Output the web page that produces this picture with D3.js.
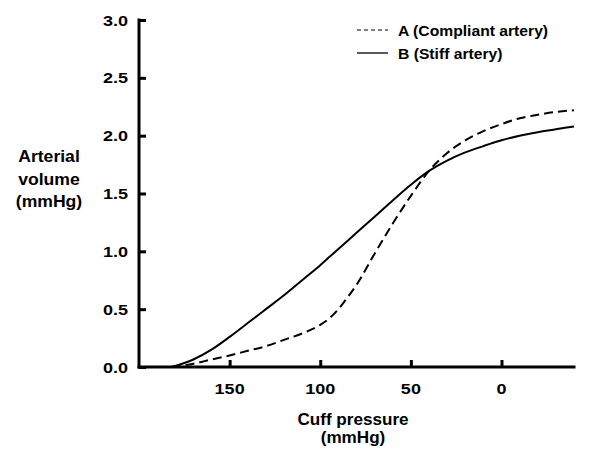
<!DOCTYPE html>
<html>
<head>
<meta charset="utf-8">
<script src="https://cdn.jsdelivr.net/npm/d3@7"></script>
<style>
  body { margin: 0; background: #fff; }
  svg { display: block; }
  text { font-family: "Liberation Sans", Arial, sans-serif; font-weight: bold; fill: #000; }
</style>
</head>
<body>
<svg id="chart" width="600" height="461"></svg>
<script>
// ---- data ----
const pressure = [182, 170, 160, 150, 140, 130, 120, 110, 100, 95, 90, 85, 80, 70, 60, 50, 40, 30, 20, 10, 0, -10, -20, -30, -40];
const compliantA = [0, 0.028, 0.065, 0.10, 0.14, 0.18, 0.235, 0.29, 0.365, 0.42, 0.50, 0.60, 0.71, 0.98, 1.24, 1.48, 1.695, 1.85, 1.96, 2.04, 2.10, 2.15, 2.18, 2.205, 2.22];
const stiffB = [0, 0.065, 0.15, 0.26, 0.38, 0.50, 0.62, 0.75, 0.88, 0.95, 1.02, 1.09, 1.16, 1.30, 1.44, 1.575, 1.695, 1.785, 1.855, 1.91, 1.96, 2.00, 2.03, 2.055, 2.08];
const xTicks = [150, 100, 50, 0];
const yTicks = [0, 0.5, 1.0, 1.5, 2.0, 2.5, 3.0];
const seriesNames = ["A (Compliant artery)", "B (Stiff artery)"];
const xTitle = ["Cuff pressure", "(mmHg)"];
const yTitle = ["Arterial", "volume", "(mmHg)"];

// ---- layout ----
const svg = d3.select("#chart");
const x = d3.scaleLinear().domain([200, -40]).range([139, 574]);
const y = d3.scaleLinear().domain([0, 3]).range([367, 20]);

function label(g, px, py, str, size, anchor, sx) {
  return g.append("text")
    .attr("transform", `translate(${px},${py}) scale(${sx},1)`)
    .attr("text-anchor", anchor)
    .attr("font-size", size)
    .text(str);
}

// axes (lines and ticks through d3 axes, labels stretched to match reference)
const xAxis = svg.append("g").attr("transform", `translate(0,${y(0)})`)
  .call(d3.axisBottom(x).tickValues(xTicks).tickSize(-7).tickFormat(""));
const yAxis = svg.append("g").attr("transform", `translate(${x(200)},0)`)
  .call(d3.axisLeft(y).tickValues(yTicks).tickSize(-7).tickFormat(""));

xAxis.select(".domain").attr("d", `M${x(200)},0H${x(-40)}`);
yAxis.select(".domain").attr("d", `M0,${y(3)}V${y(0)}`);
[xAxis, yAxis].forEach(g => {
  g.select(".domain").attr("stroke", "#000").attr("stroke-width", 3).attr("stroke-linecap", "square");
  g.selectAll(".tick line").attr("stroke", "#000").attr("stroke-width", 3);
});

const fmtY = d3.format(".1f");
xTicks.forEach(t => label(svg, x(t), 394, String(t), 15.4, "middle", 1.17));
yTicks.forEach(t => label(svg, 128, y(t) + 5.5, fmtY(t), 15.4, "end", 1.17));

// lines
const line = d3.line().curve(d3.curveMonotoneX);
const ptsA = pressure.map((p, i) => [x(p), y(compliantA[i])]);
const ptsB = pressure.map((p, i) => [x(p), y(stiffB[i])]);

svg.append("path").attr("d", line(ptsB)).attr("fill", "none")
  .attr("stroke", "#000").attr("stroke-width", 2);
svg.append("path").attr("d", line(ptsA)).attr("fill", "none")
  .attr("stroke", "#000").attr("stroke-width", 2).attr("stroke-dasharray", "9,5");

// legend
const leg = svg.append("g");
leg.append("line").attr("x1", 357).attr("x2", 388).attr("y1", 30).attr("y2", 30)
  .attr("stroke", "#000").attr("stroke-width", 1.2).attr("stroke-dasharray", "4,3");
leg.append("line").attr("x1", 357).attr("x2", 388).attr("y1", 53).attr("y2", 53)
  .attr("stroke", "#000").attr("stroke-width", 1.3);
label(leg, 398, 36, seriesNames[0], 14, "start", 1.12);
label(leg, 398, 59, seriesNames[1], 14, "start", 1.12);

// axis titles
yTitle.forEach((t, i) => label(svg, 49, 162 + i * 22.5, t, 16, "middle", 1.1));
xTitle.forEach((t, i) => label(svg, 353, 425 + i * 18, t, 16, "middle", 1.07));
</script>
</body>
</html>
